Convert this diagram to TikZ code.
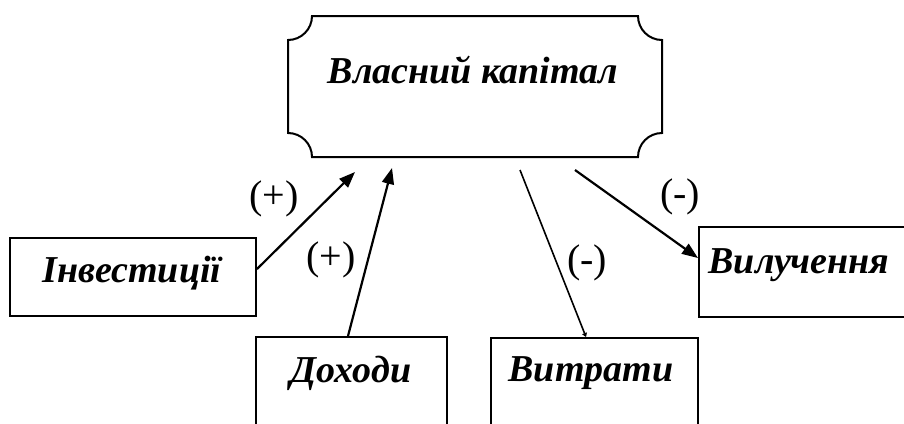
\documentclass[tikz,border=0pt]{standalone}
\usepackage{fontspec}
\setmainfont{Liberation Serif}
\usetikzlibrary{arrows.meta}
\begin{document}
\begin{tikzpicture}[x=1pt,y=1pt,
  boxnode/.style={draw, line width=2pt, inner sep=0pt},
  ntext/.style={font=\fontsize{38}{42}\selectfont\bfseries\itshape, inner sep=0pt},
  sign/.style={font=\fontsize{40}{44}\selectfont, inner sep=0pt},
  arr/.style={line width=2.2pt, -{Triangle[length=16pt,width=12pt]}}
]
\clip (0,0) rectangle (904,-423);
\useasboundingbox (0,0) rectangle (904,-423);
% plaque
\draw[line width=2pt] (312,-16) -- (638,-16)
  arc[start angle=180,end angle=270,radius=24] -- (662,-133)
  arc[start angle=90,end angle=180,radius=24] -- (312,-157)
  arc[start angle=0,end angle=90,radius=24] -- (288,-40)
  arc[start angle=270,end angle=360,radius=24] -- cycle;
\node[ntext] (cap) at (473,-70) {Власний капітал};
% boxes
\node[boxnode, minimum width=246pt, minimum height=78pt] (inv) at (133,-277) {};
\node[ntext] (invt) at (132,-273) {Інвестиції};
\node[boxnode, minimum width=191pt, minimum height=110pt, anchor=north] (doh) at (351.5,-336) {};
\node[ntext] (doht) at (351,-373) {Доходи};
\node[boxnode, minimum width=207pt, minimum height=110pt, anchor=north] (vyt) at (594.5,-337) {};
\node[ntext] (vytt) at (591,-373) {Витрати};
\node[boxnode, minimum width=220pt, minimum height=90pt, anchor=north west] (vyl) at (698,-226) {};
\node[ntext] (vylt) at (799,-265) {Вилучення};
% arrow ends
\coordinate (c1) at (355,-172);
\coordinate (c2) at (392,-168);
\coordinate (c3) at (520,-170);
\coordinate (c4) at (575,-170);
\coordinate (s1) at (257,-269);
\coordinate (s2) at (348,-336);
\coordinate (e3) at (586,-337);
\coordinate (e4) at (698,-258);
\draw[arr] (s1) -- (c1);
\draw[arr] (s2) -- (c2);
\draw[line width=1.6pt, -{Triangle[length=4pt,width=5pt]}] (c3) -- (e3);
\draw[arr] (c4) -- (e4);
% signs
\node[sign] (p1) at (274,-199) {(+)};
\node[sign] (p2) at (331,-260) {(+)};
\node[sign] (m1) at (680,-197) {(-)};
\node[sign] (m2) at (587,-263) {(-)};
\end{tikzpicture}
\end{document}
